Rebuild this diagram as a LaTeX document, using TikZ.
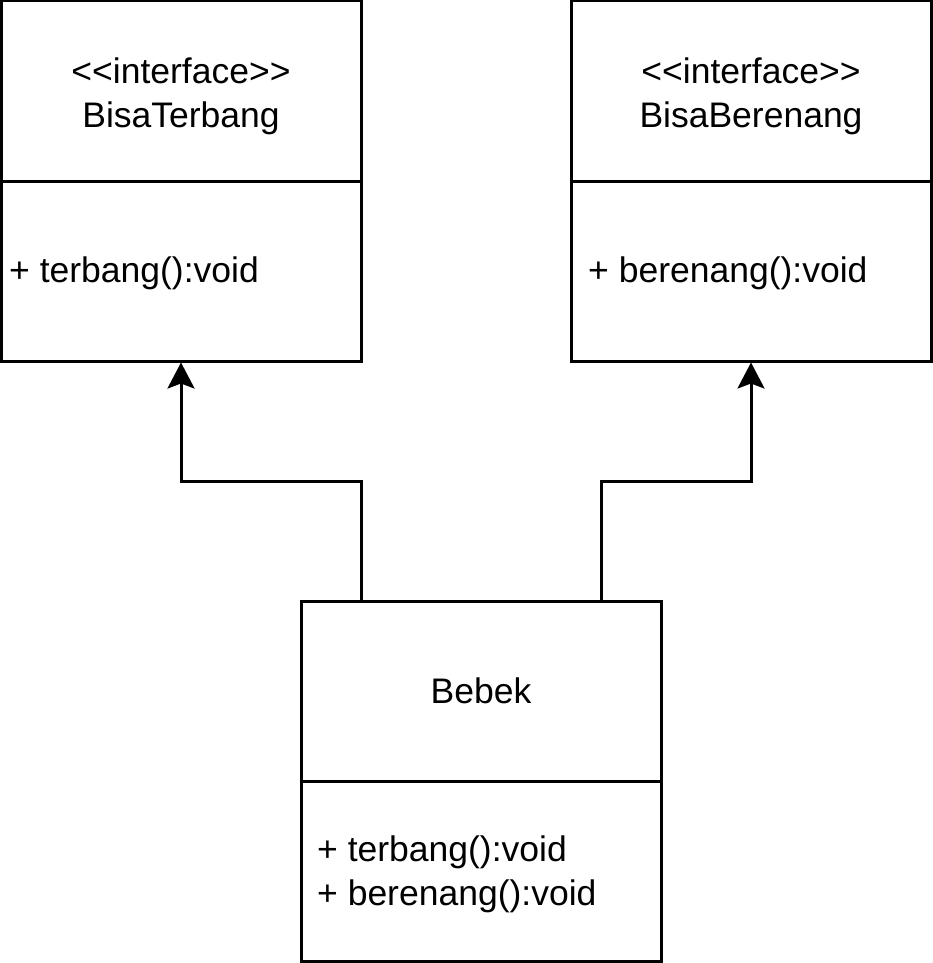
\documentclass[tikz,border=0pt]{standalone}
\usepackage{fontspec}
\setmainfont{Liberation Sans}[Ligatures=TeXOff]
\usetikzlibrary{arrows.meta}
\begin{document}
\begin{tikzpicture}[x=1pt,y=1pt,
  classbox/.style={draw=black, line width=3pt, fill=white, minimum width=360pt, minimum height=360pt, inner sep=0pt},
  divider/.style={draw=black, line width=3pt},
  txt/.style={font=\fontsize{35.5}{44}\selectfont, inner sep=0pt, text=black},
  arr/.style={draw=black, line width=3pt, -{Stealth[length=26pt, width=27pt, inset=5pt]}}
]
\useasboundingbox (0,0) rectangle (933,-963);
\node[classbox] (bt) at (181,-181) {};
\node[classbox] (bs) at (751,-181) {};
\node[classbox] (beb) at (481,-781) {};
\draw[divider] (bt.west) -- (bt.east);
\draw[divider] (bs.west) -- (bs.east);
\draw[divider] (beb.west) -- (beb.east);
\node[txt, align=center] (btname) at (181,-96) {<<interface>>\\BisaTerbang};
\node[txt, align=center] (bsname) at (751,-96) {<<interface>>\\BisaBerenang};
\node[txt] (bebname) at (481,-691) {Bebek};
\node[txt, anchor=west] (btop) at (9,-273) {+ terbang():void};
\node[txt, anchor=west] (bsop) at (588,-273) {+ berenang():void};
\node[txt, anchor=west, align=left] (bebop) at (317,-874) {+ terbang():void\\+ berenang():void};
\draw[arr] ([xshift=61.5pt]beb.north west) -- ++(0,118.5pt) -| (bt.south);
\draw[arr] ([xshift=-61.5pt]beb.north east) -- ++(0,118.5pt) -| (bs.south);
\end{tikzpicture}
\end{document}
